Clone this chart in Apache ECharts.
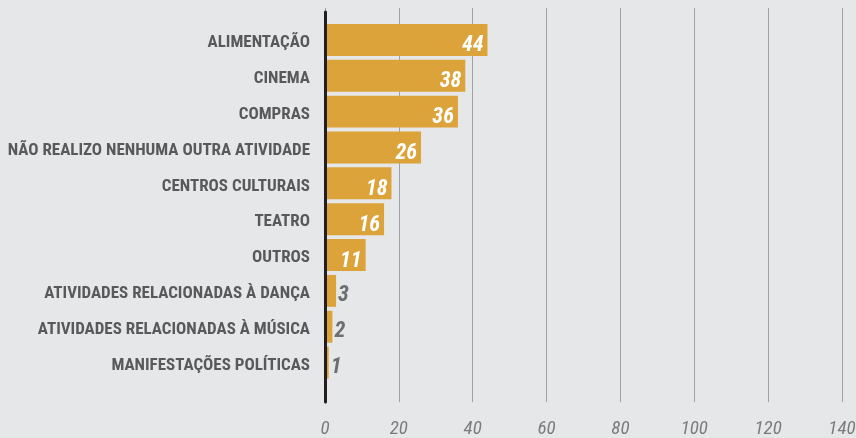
<!DOCTYPE html>
<html>
<head>
<meta charset="utf-8">
<script src="https://cdn.jsdelivr.net/npm/echarts@6/dist/echarts.min.js"></script>
<style>
  html, body { margin: 0; padding: 0; background: #e6e7e8; }
  #chart { width: 856px; height: 438px; }
</style>
</head>
<body>
<div id="chart"></div>
<script>
// Activities, top to bottom
const categories = [
  'ALIMENTAÇÃO',
  'CINEMA',
  'COMPRAS',
  'NÃO REALIZO NENHUMA OUTRA ATIVIDADE',
  'CENTROS CULTURAIS',
  'TEATRO',
  'OUTROS',
  'ATIVIDADES RELACIONADAS À DANÇA',
  'ATIVIDADES RELACIONADAS À MÚSICA',
  'MANIFESTAÇÕES POLÍTICAS'
];
const values = [44, 38, 36, 26, 18, 16, 11, 3, 2, 1];
const tickValues = [0, 20, 40, 60, 80, 100, 120, 140];

const FONT = '"Roboto Condensed", "Open Sans Condensed", sans-serif';
const BAR = '#dca33a';
const GRAY = '#6d6e71';
const axisMin = tickValues[0];
const axisMax = tickValues[tickValues.length - 1];
const step = tickValues[1] - tickValues[0];

// Short bars get their value outside, in gray; long bars carry it inside, in white.
const seriesData = values.map(v => {
  const inside = v >= 10;
  return {
    value: v,
    label: inside ? {
      position: 'insideRight',
      distance: 4,
      offset: [0, 6],
      color: '#ffffff'
    } : {
      position: 'right',
      distance: 2,
      offset: [0, 5],
      color: GRAY
    }
  };
});

const gridBase = { left: 325, right: 14, containLabel: false, outerBoundsMode: 'none' };

const chart = echarts.init(document.getElementById('chart'), null, { renderer: 'canvas' });
chart.setOption({
  backgroundColor: '#e6e7e8',
  animation: false,
  grid: [
    // bars
    Object.assign({}, gridBase, { top: 22, bottom: 57.5 }),
    // gridlines + tick labels
    Object.assign({}, gridBase, { top: 8, bottom: 36 }),
    // the dark baseline
    Object.assign({}, gridBase, { top: 12, bottom: 36 })
  ],
  xAxis: [
    {
      gridIndex: 0, type: 'value', min: axisMin, max: axisMax, interval: step,
      axisLine: { show: false }, axisTick: { show: false },
      axisLabel: { show: false }, splitLine: { show: false }
    },
    {
      gridIndex: 1, type: 'value', min: axisMin, max: axisMax, interval: step,
      axisLine: { show: false }, axisTick: { show: false },
      splitLine: { show: true, lineStyle: { color: '#9fa1a4', width: 1 } },
      axisLabel: {
        margin: 18,
        color: '#7a7b7e',
        fontFamily: FONT,
        fontStyle: 'italic',
        fontSize: 19
      }
    },
    {
      gridIndex: 2, type: 'value', min: axisMin, max: axisMax, show: false
    }
  ],
  yAxis: [
    {
      gridIndex: 0, type: 'category', data: categories, inverse: true,
      axisLine: { show: false }, axisTick: { show: false },
      axisLabel: {
        margin: 15,
        formatter: name => '{c|' + name + '}',
        rich: {
          c: {
            padding: [6, 0, 0, 0],
            color: '#58595b',
            fontFamily: FONT,
            fontWeight: 'bold',
            fontSize: 17
          }
        }
      }
    },
    {
      gridIndex: 1, type: 'value', show: false
    },
    {
      gridIndex: 2, type: 'value', z: 5,
      axisLine: { show: true, lineStyle: { color: '#231f20', width: 3 } },
      axisTick: { show: false }, axisLabel: { show: false },
      splitLine: { show: false }
    }
  ],
  series: [{
    type: 'bar',
    xAxisIndex: 0,
    yAxisIndex: 0,
    data: seriesData,
    barCategoryGap: '11%',
    itemStyle: { color: BAR },
    label: {
      show: true,
      fontFamily: FONT,
      fontStyle: 'italic',
      fontWeight: 'bold',
      fontSize: 22
    }
  }]
});
</script>
</body>
</html>
